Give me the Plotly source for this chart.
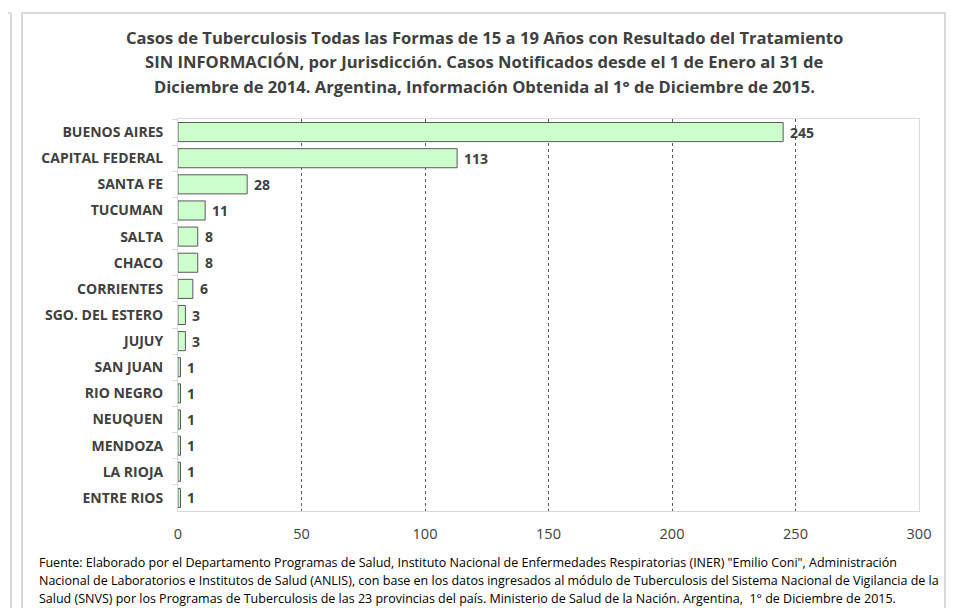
import plotly.graph_objects as go

jurisdicciones = ["BUENOS AIRES", "CAPITAL FEDERAL", "SANTA FE", "TUCUMAN", "SALTA", "CHACO",
                  "CORRIENTES", "SGO. DEL ESTERO", "JUJUY", "SAN JUAN", "RIO NEGRO", "NEUQUEN",
                  "MENDOZA", "LA RIOJA", "ENTRE RIOS"]
casos = [245, 113, 28, 11, 8, 8, 6, 3, 3, 1, 1, 1, 1, 1, 1]
x_ticks = [0, 50, 100, 150, 200, 250, 300]

titulo_lineas = [
    "Casos de Tuberculosis Todas las Formas de 15 a 19 Años con Resultado del Tratamiento",
    "SIN INFORMACIÓN, por Jurisdicción. Casos Notificados desde el 1 de Enero al 31 de",
    "Diciembre de 2014. Argentina, Información Obtenida al 1° de Diciembre de 2015.",
]
fuente_lineas = [
    "Fuente: Elaborado por el Departamento Programas de Salud, Instituto Nacional de Enfermedades Respiratorias (INER) \"Emilio Coni\", Administración",
    "Nacional de Laboratorios e Institutos de Salud (ANLIS), con base en los datos ingresados al módulo de Tuberculosis del Sistema Nacional de Vigilancia de la",
    "Salud (SNVS) por los Programas de Tuberculosis de las 23 provincias del país. Ministerio de Salud de la Nación. Argentina,  1° de Diciembre de 2015.",
]

FONT = "Open Sans"
TXT = "#404040"
FRAME = "#D9D9D9"

# the page body adds an 8px offset; figure is sized/positioned to compensate
OFF = 8
W, H = 960 - OFF, 608 - OFF
L, R, T, B = 178 - OFF, W - (919 - OFF), 119 - OFF, H - (511 - OFF)
plot_w = W - L - R
plot_h = H - T - B

def px(xref_px):
    return (xref_px - OFF - L) / plot_w

def py(yref_px):
    return (H - B - (yref_px - OFF)) / plot_h

fig = go.Figure(go.Bar(
    y=jurisdicciones, x=casos, orientation="h",
    marker=dict(color="#CCFFCC", line=dict(color="#595959", width=1)),
    hoverinfo="x+y",
))

annotations = []
for j, v in zip(jurisdicciones, casos):
    annotations.append(dict(x=v, y=j, xref="x", yref="y", text=str(v), showarrow=False,
                            xanchor="left", yanchor="middle", xshift=5,
                            font=dict(family=FONT, size=14, color=TXT, weight="bold")))

for i, line in enumerate(titulo_lineas):
    annotations.append(dict(text=line, x=px(484), y=py(37 + 25 * i), xref="paper", yref="paper",
                            showarrow=False, xanchor="center", yanchor="middle",
                            font=dict(family=FONT, size=16.6, color=TXT, weight="bold")))

for i, line in enumerate(fuente_lineas):
    annotations.append(dict(text=line, x=px(37), y=py(562 + 18 * i), xref="paper", yref="paper",
                            showarrow=False, xanchor="left", yanchor="middle",
                            font=dict(family=FONT, size=12.5, color="#000000")))

fig.update_layout(
    width=W, height=H,
    paper_bgcolor="white", plot_bgcolor="white",
    margin=dict(l=L, r=R, t=T, b=B, autoexpand=False),
    bargap=0.27,
    showlegend=False,
    font=dict(family=FONT, color=TXT),
    xaxis=dict(range=[0, 300], tickvals=x_ticks, showgrid=True, gridcolor="#595959",
               griddash="dot", gridwidth=1, zeroline=False, showline=True, mirror=True,
               linecolor="#D9D9D9", tickfont=dict(family=FONT, size=14.5, color=TXT),
               ticks="", ticklabelstandoff=10),
    yaxis=dict(autorange="reversed", showgrid=False, zeroline=False, showline=True, mirror=True,
               linecolor="#D9D9D9", ticks="outside", tickcolor="#D9D9D9", ticklen=5,
               tickson="boundaries",
               tickfont=dict(family=FONT, size=14, color=TXT, weight="bold"),
               ticklabelstandoff=11),
    annotations=annotations,
)

# outer frames of the page
fig.add_shape(type="rect", xref="paper", yref="paper",
              x0=px(22), x1=px(945), y0=py(620), y1=py(13),
              line=dict(color=FRAME, width=2), layer="below")
fig.add_shape(type="line", xref="paper", yref="paper",
              x0=px(11), x1=px(11), y0=py(620), y1=py(13),
              line=dict(color=FRAME, width=2), layer="below")
fig.add_shape(type="line", xref="paper", yref="paper",
              x0=px(0), x1=px(11), y0=py(13), y1=py(13),
              line=dict(color=FRAME, width=2), layer="below")

fig.write_html("out.html")
